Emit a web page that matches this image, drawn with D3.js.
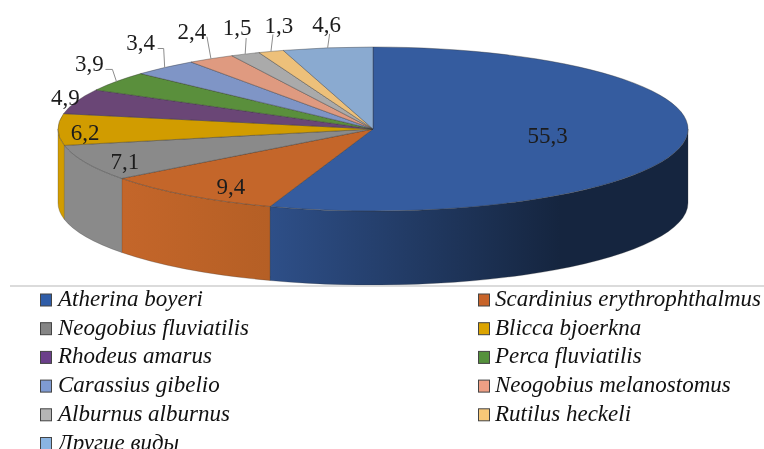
<!DOCTYPE html>
<html><head><meta charset="utf-8">
<script src="https://cdn.jsdelivr.net/npm/d3@7"></script>
<style>html,body{margin:0;padding:0;background:#fff;overflow:hidden}svg{display:block;filter:blur(0.45px)}</style>
</head><body>
<svg id="c" width="764" height="449" xmlns="http://www.w3.org/2000/svg"></svg>
<script>
const species = ["Atherina boyeri","Scardinius erythrophthalmus","Neogobius fluviatilis","Blicca bjoerkna","Rhodeus amarus","Perca fluviatilis","Carassius gibelio","Neogobius melanostomus","Alburnus alburnus","Rutilus heckeli","Другие виды"];
const shares = [55.3,9.4,7.1,6.2,4.9,3.9,3.4,2.4,1.5,1.3,4.6];
const topColors = ["#355c9f","#c4662a","#8a8a8a","#d19c00","#6a4676","#5a8f3c","#7f95c6","#df9a80","#aaaaaa","#edc07a","#8aaad0"];
const legendColors = ["#2f5da8","#c8642a","#858585","#dca400","#6b3f8a","#55913c","#7f9bd2","#ee9f84","#b5b5b5","#f8c878","#8ab4e2"];
const sideStart = {0:"#2e4f88",1:"#c4662a",2:"#8a8a8a",3:"#d19c00"};
const sideEnd = {0:"#15253f",1:"#b55f25",2:"#8a8a8a",3:"#d19c00"};
// label placement relative to each slice's rim point
const labelOffsets = [[-136,-7],[43,-9],[39,-1],[27,3],[-11,-4],[-27,-18],[-24,-25],[-19,-27],[-8,-27],[8,-26],[-1,-23]];
// leader elbows relative to the rim point
const leaderElbows = {5:[[-4,-12],[-11,-12]],6:[[-1,-19],[-7,-19]],7:[[-4,-22]],8:[[1,-16]],9:[[2,-17]],10:[[2,-14]]};

const cx=373, cy=129, rx=315, ry=82, depth=74;
const svg=d3.select("#c");
const defs=svg.append("defs");
const tau=2*Math.PI;
const arcs=d3.pie().sort(null).value(d=>d).startAngle(0).endAngle(tau)(shares);
const px=t=>cx+rx*Math.sin(t), py=t=>cy-ry*Math.cos(t);

// side walls: visible between 90° and 270°
const sides=svg.append("g");
arcs.forEach((a,i)=>{
  const s=Math.max(a.startAngle,tau/4), e=Math.min(a.endAngle,3*tau/4);
  if(e<=s) return;
  const id="side"+i;
  const g=defs.append("linearGradient").attr("id",id).attr("gradientUnits","userSpaceOnUse")
    .attr("x1",i===0?270:px(e)).attr("x2",i===0?560:px(s)).attr("y1",0).attr("y2",0);
  g.append("stop").attr("offset",0).attr("stop-color",sideStart[i]);
  g.append("stop").attr("offset",1).attr("stop-color",sideEnd[i]);
  const p=`M${px(s)},${py(s)}A${rx},${ry} 0 0 1 ${px(e)},${py(e)}L${px(e)},${py(e)+depth}A${rx},${ry} 0 0 0 ${px(s)},${py(s)+depth}Z`;
  sides.append("path").attr("d",p).attr("fill",`url(#${id})`).attr("stroke","#3a3a3a").attr("stroke-opacity",0.45).attr("stroke-width",0.6);
});

// top face
const arc=d3.arc().innerRadius(0).outerRadius(rx);
svg.append("g").attr("transform",`translate(${cx},${cy}) scale(1,${ry/rx})`)
  .selectAll("path").data(arcs).join("path")
  .attr("d",arc).attr("fill",(d,i)=>topColors[i])
  .attr("stroke","#333").attr("stroke-opacity",0.55).attr("stroke-width",0.7).attr("vector-effect","non-scaling-stroke");

// leaders
const rim=a=>{const m=(a.startAngle+a.endAngle)/2;return [px(m),py(m)];};
const line=d3.line();
arcs.forEach((a,i)=>{
  if(!leaderElbows[i]) return;
  const r=rim(a);
  const pts=[r].concat(leaderElbows[i].map(o=>[r[0]+o[0],r[1]+o[1]]));
  svg.append("path").attr("d",line(pts)).attr("fill","none").attr("stroke","#8c8c8c").attr("stroke-width",1);
});

// labels
svg.append("g").selectAll("text").data(arcs).join("text")
  .attr("x",(d,i)=>rim(d)[0]+labelOffsets[i][0])
  .attr("y",(d,i)=>rim(d)[1]+labelOffsets[i][1])
  .attr("text-anchor","middle").attr("dominant-baseline","central")
  .attr("font-family","'Liberation Serif',serif").attr("font-size",23)
  .attr("fill","#1c1c1c")
  .text((d,i)=>String(shares[i]).replace(".",","));

// separator
svg.append("line").attr("x1",10).attr("x2",764).attr("y1",286).attr("y2",286).attr("stroke","#cfcfcf").attr("stroke-width",1.6);

// legend
const rowY=d3.scaleLinear().domain([0,5]).range([300,443.5]);
const leg=svg.append("g").selectAll("g").data(species).join("g")
  .attr("transform",(d,i)=>`translate(${i%2?478:40},${rowY(Math.floor(i/2))})`);
leg.append("rect").attr("x",0.5).attr("y",-6).attr("width",11).attr("height",12)
  .attr("fill",(d,i)=>legendColors[i]).attr("stroke","#444").attr("stroke-width",1);
leg.append("text").attr("x",(d,i)=>i%2?17:18).attr("y",6)
  .attr("font-family","'Liberation Serif',serif").attr("font-style","italic").attr("font-size",23)
  .attr("fill","#111").text(d=>d);
</script>
</body></html>
